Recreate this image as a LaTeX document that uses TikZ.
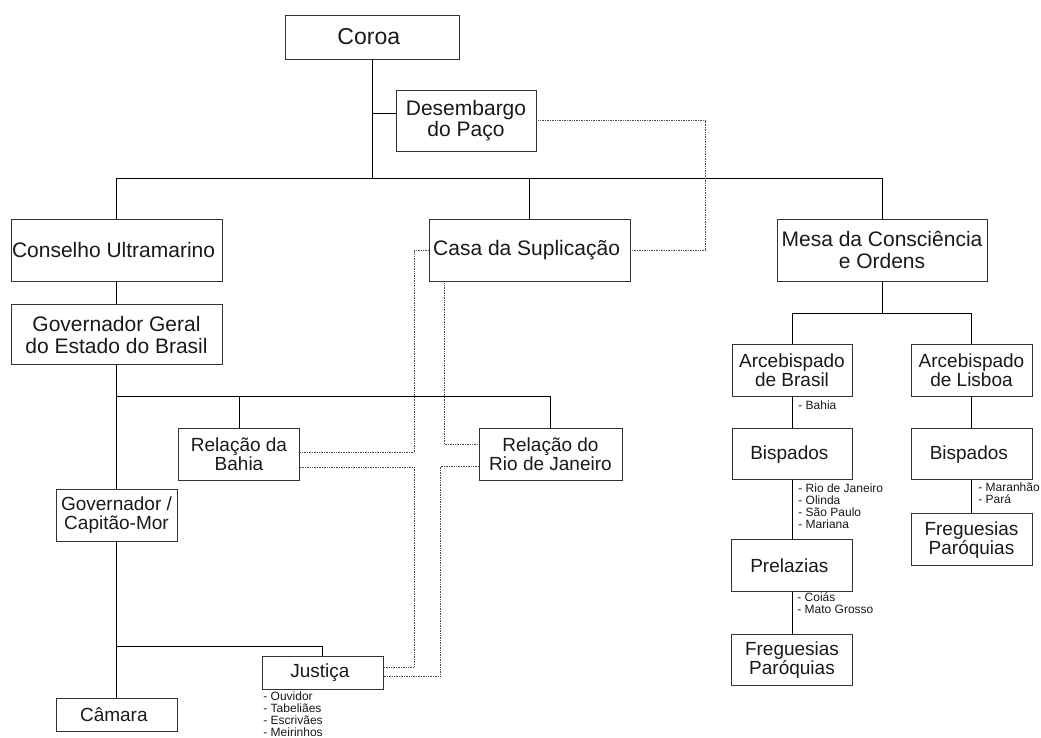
\documentclass[tikz,border=0pt]{standalone}
\usepackage{fontspec}
\setmainfont{Liberation Sans}
\usetikzlibrary{positioning}

\begin{document}
\begin{tikzpicture}[x = 1pt, y = -1pt, line width = .8pt,
    every node/.style = { align = center, inner sep = 0pt, text = black!90 },
    big/.style = { draw = black!80, font = \fontsize{21}{21.5}\selectfont },
    box/.style = { draw = black!80, font = \fontsize{19}{19}\selectfont, minimum width = 121pt, minimum height = 52pt },
    note/.style = { align = left, anchor = north west, font = \fontsize{12}{12}\selectfont },
    link/.style = { densely dotted, line width = .7pt, black!70 }]
  \useasboundingbox (0,0) rectangle (1041,737);

  \node [big, minimum width = 174pt, minimum height = 44pt, font = \fontsize{23}{23}\selectfont] (coroa) at (372,37) { Coroa };
  \node [big, minimum width = 140pt, minimum height = 61pt] (desemb) at (466,120.5) { Desembargo \\ do Paço };
  \node [big, minimum width = 211pt, minimum height = 62pt] (conselho) at (116.5,250) { Conselho Ultramarino };
  \node [big, minimum width = 201pt, minimum height = 62pt] (casa) at (529.5,250) { Casa da Suplicação };
  \node [big, minimum width = 210pt, minimum height = 62pt] (mesa) at (882,250) { Mesa da Consciência \\ e Ordens };
  \node [big, minimum width = 211pt, minimum height = 60pt, below = 23pt of conselho] (govgeral) { Governador Geral \\ do Estado do Brasil };

  \node [box] (bahia) at (239,454) { Relação da \\ Bahia };
  \node [box, minimum width = 143pt] (rio) at (550.5,454) { Relação do \\ Rio de Janeiro };
  \node [box] (capmor) at (116.5,515) { Governador / \\ Capitão-Mor };
  \node [box, minimum height = 33pt] (justica) at (322.5,672.5) { Justiça };
  \node [box, minimum height = 33pt] (camara) at (116.5,714.5) { Câmara };

  \node [box, minimum width = 120pt] (arcbr) at (792,370) { Arcebispado \\ de Brasil };
  \node [box] (arclis) at (971.5,370) { Arcebispado \\ de Lisboa };
  \node [box, minimum width = 120pt, minimum height = 51pt, below = 32pt of arcbr] (bispbr) { Bispados };
  \node [box, minimum height = 51pt, below = 32pt of arclis] (bisplis) { Bispados };
  \node [box, below = 59pt of bispbr] (prel) { Prelazias };
  \node [box, minimum height = 51pt, below = 42pt of prel] (fregbr) { Freguesias \\ Paróquias };
  \node [box, below = 33pt of bisplis] (freglis) { Freguesias \\ Paróquias };

  \node [note] (nbahia) at (798,400) { - Bahia };
  \node [note] (nbispbr) at (798,483) { - Rio de Janeiro \\ - Olinda \\ - São Paulo \\ - Mariana };
  \node [note, font = \fontsize{12}{12.5}\selectfont] (nprel) at (797,592) { - Coiás \\ - Mato Grosso };
  \node [note] (nbisplis) at (978,482) { - Maranhão \\ - Pará };
  \node [note] (njustica) at (263,691) { - Ouvidor \\ - Tabeliães \\ - Escrivães \\ - Meirinhos };

  \coordinate (top) at (0,178);
  \coordinate (mid) at (0,396);
  \coordinate (low) at (0,646);
  \coordinate (rt) at (0,313);
  \coordinate (dj) at ([yshift = 7.5pt]desemb.west);

  \draw (coroa.south) -- (coroa.south |- top);
  \draw (dj) -- (dj -| coroa.south);
  \draw (conselho.north) |- (mesa.north |- top) -- (mesa.north);
  \draw (casa.north) -- (casa.north |- top);
  \draw (conselho) -- (govgeral);
  \draw (govgeral) -- (capmor);
  \draw (govgeral |- mid) -| (rio.north);
  \draw (bahia.north) -- (bahia.north |- mid);
  \draw (capmor) -- (camara);
  \draw (capmor |- low) -| (justica.north);
  \draw (mesa.south) -- (mesa.south |- rt);
  \draw (arcbr.north) |- (arclis.north |- rt) -- (arclis.north);
  \draw (arcbr) -- (bispbr);
  \draw (bispbr) -- (prel);
  \draw (prel) -- (fregbr);
  \draw (arclis) -- (bisplis);
  \draw (bisplis) -- (freglis);

  \coordinate (d1) at (705,185);
  \coordinate (d2) at (414,350);
  \coordinate (d3) at (414,600);
  \coordinate (d4) at (444,350);
  \coordinate (d5) at (440,600);
  \draw [link] (desemb.east) -| (d1) |- (casa.east);
  \draw [link] (casa.west) -| (d2) |- ([yshift = 2pt]bahia.east);
  \draw [link] ([yshift = -13pt]bahia.east) -| (d3) |- ([yshift = 5.5pt]justica.east);
  \draw [link] (casa.south -| d4) |- ([yshift = 10pt]rio.west);
  \draw [link] ([yshift = -12pt]rio.west) -| (d5) |- ([yshift = -3.5pt]justica.east);
\end{tikzpicture}
\end{document}
